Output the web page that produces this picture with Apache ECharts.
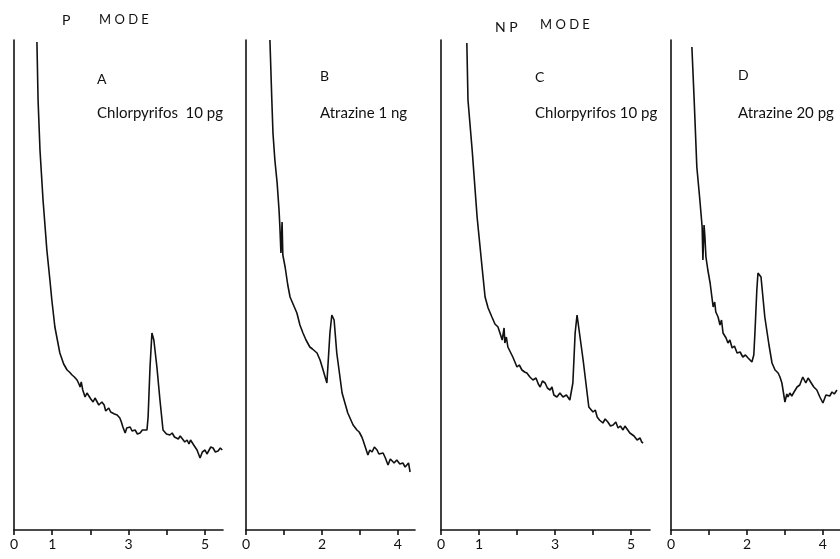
<!DOCTYPE html>
<html>
<head>
<meta charset="utf-8">
<script src="https://cdn.jsdelivr.net/npm/echarts@6/dist/echarts.min.js"></script>
<style>
  html, body { margin: 0; padding: 0; background: #fff; }
  #main { width: 840px; height: 559px; }
</style>
</head>
<body>
<div id="main"></div>
<script>
// retention time (min) and detector response
const tA = [0.60,0.63,0.68,0.76,0.86,0.94,0.99,1.07,1.20,1.30,1.39,1.45,1.52,1.58,1.65,1.70,1.73,1.76,1.80,1.86,1.91,1.96,2.01,2.07,2.12,2.17,2.22,2.25,2.30,2.36,2.40,2.43,2.48,2.53,2.57,2.63,2.70,2.77,2.81,2.85,2.91,2.95,2.98,3.04,3.09,3.13,3.17,3.23,3.30,3.36,3.40,3.48,3.51,3.56,3.61,3.66,3.74,3.82,3.90,3.99,4.08,4.14,4.20,4.24,4.30,4.35,4.40,4.47,4.53,4.58,4.62,4.66,4.72,4.79,4.87,4.93,5.00,5.05,5.10,5.15,5.21,5.27,5.34,5.40,5.45];
const vA = [488,430,380,330,280,250,230,203,177,166,160,158,155,153,150,146,143,148,140,133,137,135,131,128,132,130,125,123,128,125,119,117,122,118,120,116,115,112,108,103,97,102,104,103,99,101,100,96,97,100,99,100,113,163,197,190,163,130,100,96,95,97,93,94,91,94,92,88,90,86,90,88,84,80,72,78,80,76,78,83,82,78,79,82,80];

const tB = [0.63,0.68,0.71,0.76,0.82,0.87,0.89,0.92,0.95,0.97,1.03,1.10,1.16,1.25,1.34,1.42,1.50,1.58,1.68,1.75,1.87,1.95,2.03,2.13,2.21,2.26,2.32,2.39,2.53,2.68,2.82,2.92,2.98,3.05,3.08,3.13,3.21,3.26,3.32,3.38,3.45,3.50,3.53,3.61,3.67,3.74,3.80,3.84,3.90,3.97,4.05,4.13,4.19,4.24,4.28,4.32];
const vB = [490,430,397,370,347,320,305,277,308,275,263,245,233,225,217,205,197,190,183,181,177,170,160,147,197,215,210,177,137,117,105,100,98,93,90,92,75,80,78,83,80,76,75,77,72,65,71,70,67,70,66,67,63,65,67,58];

const tC = [0.68,0.71,0.82,0.95,1.08,1.16,1.24,1.34,1.42,1.50,1.56,1.61,1.66,1.68,1.72,1.76,1.89,2.00,2.06,2.13,2.20,2.26,2.34,2.42,2.50,2.56,2.61,2.67,2.74,2.80,2.87,2.92,2.97,3.05,3.13,3.21,3.30,3.39,3.47,3.53,3.58,3.63,3.74,3.89,4.00,4.06,4.11,4.17,4.26,4.32,4.39,4.46,4.53,4.60,4.66,4.72,4.79,4.84,4.89,4.97,5.02,5.08,5.12,5.16,5.24,5.28,5.32];
const vC = [487,430,380,313,263,233,222,213,206,203,196,190,202,187,193,183,173,163,165,160,158,157,153,150,152,146,143,149,147,142,140,143,135,133,137,133,135,130,147,197,215,213,170,123,118,120,113,110,107,111,108,104,105,108,102,104,100,104,102,97,99,94,96,90,92,88,87];

const tD = [0.55,0.61,0.68,0.76,0.82,0.84,0.87,0.89,0.92,0.97,1.03,1.11,1.15,1.18,1.24,1.29,1.33,1.37,1.45,1.50,1.55,1.61,1.67,1.74,1.82,1.89,1.96,2.03,2.13,2.18,2.21,2.26,2.29,2.37,2.47,2.58,2.66,2.74,2.82,2.87,2.92,3.00,3.05,3.08,3.13,3.18,3.24,3.32,3.39,3.47,3.55,3.61,3.66,3.76,3.84,3.92,4.00,4.08,4.13,4.18,4.24,4.30,4.37];
const vD = [483,430,363,330,303,270,305,295,273,260,247,223,228,218,213,205,210,197,192,187,190,182,184,177,178,173,175,172,168,175,197,240,257,253,213,185,167,160,157,153,147,128,136,133,137,134,138,143,145,153,147,152,150,143,140,133,127,135,137,134,138,136,140];

// axis ticks and which of them carry a number
const labelsAC = ['0', '1', '3', '5'];
const labelsBD = ['0', '2', '4'];

const panels = [
  { t: tA, v: vA, left: 14,  width: 209, max: 5.47, labels: labelsAC },
  { t: tB, v: vB, left: 246, width: 169, max: 4.45, labels: labelsBD },
  { t: tC, v: vC, left: 441, width: 209, max: 5.5,  labels: labelsAC },
  { t: tD, v: vD, left: 671, width: 169, max: 4.45, labels: labelsBD }
];

const ink = '#111';
const font = 'Lato, "DejaVu Sans", sans-serif';

const myChart = echarts.init(document.getElementById('main'));

const option = {
  backgroundColor: '#fff',
  animation: false,
  grid: panels.map(p => ({ left: p.left, width: p.width, top: 40, height: 490 })),
  xAxis: panels.map((p, i) => ({
    type: 'value',
    gridIndex: i,
    min: 0,
    max: p.max,
    interval: 1,
    axisLine: { show: true, lineStyle: { color: ink, width: 1.6 } },
    axisTick: { show: true, length: 5, lineStyle: { color: ink, width: 1.6 } },
    axisLabel: {
      show: true,
      showMaxLabel: false,
      margin: 7,
      color: ink,
      fontSize: 14,
      fontFamily: font,
      formatter: val => (p.labels.indexOf(String(val)) >= 0 ? String(val) : '')
    },
    splitLine: { show: false }
  })),
  yAxis: panels.map((p, i) => ({
    type: 'value',
    gridIndex: i,
    min: 0,
    max: 490,
    axisLine: { show: true, lineStyle: { color: ink, width: 1.6 } },
    axisTick: { show: false },
    axisLabel: { show: false },
    splitLine: { show: false }
  })),
  series: panels.map((p, i) => ({
    type: 'line',
    xAxisIndex: i,
    yAxisIndex: i,
    showSymbol: false,
    smooth: false,
    lineStyle: { color: ink, width: 1.6 },
    data: p.t.map((t, k) => [t, p.v[k]])
  })),
  graphic: [
    { type: 'text', left: 62, top: 13, style: { text: 'P', font: '14px ' + font, fill: ink } },
    { type: 'text', left: 99, top: 13, style: { text: 'M O D E', font: '13px ' + font, fill: ink } },
    { type: 'text', left: 495, top: 20, style: { text: 'N P', font: '14px ' + font, fill: ink } },
    { type: 'text', left: 540, top: 18, style: { text: 'M O D E', font: '13px ' + font, fill: ink } },
    { type: 'text', left: 97, top: 72, style: { text: 'A', font: '14px ' + font, fill: ink } },
    { type: 'text', left: 97, top: 106, style: { text: 'Chlorpyrifos  10 pg', font: '15px ' + font, fill: ink } },
    { type: 'text', left: 320, top: 69, style: { text: 'B', font: '14px ' + font, fill: ink } },
    { type: 'text', left: 320, top: 106, style: { text: 'Atrazine 1 ng', font: '15px ' + font, fill: ink } },
    { type: 'text', left: 535, top: 70, style: { text: 'C', font: '14px ' + font, fill: ink } },
    { type: 'text', left: 535, top: 106, style: { text: 'Chlorpyrifos 10 pg', font: '15px ' + font, fill: ink } },
    { type: 'text', left: 738, top: 68, style: { text: 'D', font: '14px ' + font, fill: ink } },
    { type: 'text', left: 738, top: 106, style: { text: 'Atrazine 20 pg', font: '15px ' + font, fill: ink } }
  ]
};

myChart.setOption(option);
window.addEventListener('resize', () => {
  myChart.resize();
});
</script>
</body>
</html>
